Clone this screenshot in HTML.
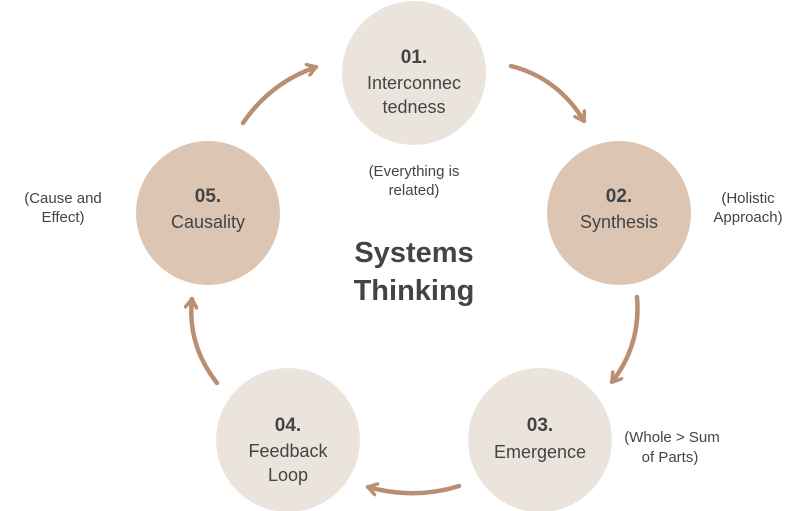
<!DOCTYPE html>
<html><head><meta charset="utf-8"><style>
html,body{margin:0;padding:0;background:#fff;}
svg{display:block}
text{font-family:"Liberation Sans",sans-serif;fill:#444;}
</style></head><body>
<svg width="810" height="511" viewBox="0 0 810 511" xmlns="http://www.w3.org/2000/svg">
<defs>
<marker id="ah" viewBox="0 0 14 14" refX="10" refY="7" markerWidth="14" markerHeight="14" markerUnits="userSpaceOnUse" orient="auto">
<path d="M1,1 L10,7 L1,13" fill="none" stroke="#b98f72" stroke-width="3.5" stroke-linecap="round" stroke-linejoin="round"/>
</marker>
</defs>
<circle cx="414" cy="73" r="72" fill="#eae4dd"/>
<circle cx="619" cy="213" r="72" fill="#dcc6b3"/>
<circle cx="540" cy="440" r="72" fill="#eae4dd"/>
<circle cx="288" cy="440" r="72" fill="#eae4dd"/>
<circle cx="208" cy="213" r="72" fill="#dcc6b3"/>
<g fill="none" stroke="#b98f72" stroke-width="4.5" stroke-linecap="round" marker-end="url(#ah)">
<path d="M511,66 Q558,78 584,121"/>
<path d="M637,297 Q641,345 612,382"/>
<path d="M459,486 Q415,500 368,487"/>
<path d="M217,383 Q187,345 192,299"/>
<path d="M243,123 Q270,83 316,67"/>
</g>
<g text-anchor="middle" font-size="18">
<text x="414" y="63" font-weight="bold" font-size="19">01.</text>
<text x="414" y="89">Interconnec</text>
<text x="414" y="113">tedness</text>
<text x="619" y="202" font-weight="bold" font-size="19">02.</text>
<text x="619" y="228">Synthesis</text>
<text x="540" y="431" font-weight="bold" font-size="19">03.</text>
<text x="540" y="458">Emergence</text>
<text x="288" y="431" font-weight="bold" font-size="19">04.</text>
<text x="288" y="457">Feedback</text>
<text x="288" y="481">Loop</text>
<text x="208" y="202" font-weight="bold" font-size="19">05.</text>
<text x="208" y="228">Causality</text>
</g>
<g text-anchor="middle" font-size="15">
<text x="414" y="176">(Everything is</text>
<text x="414" y="195">related)</text>
<text x="748" y="203">(Holistic</text>
<text x="748" y="222">Approach)</text>
<text x="672" y="442">(Whole &gt; Sum</text>
<text x="670" y="462">of Parts)</text>
<text x="63" y="203">(Cause and</text>
<text x="63" y="222">Effect)</text>
</g>
<g text-anchor="middle" font-size="29" font-weight="bold">
<text x="414" y="262">Systems</text>
<text x="414" y="300">Thinking</text>
</g>
</svg>
</body></html>
